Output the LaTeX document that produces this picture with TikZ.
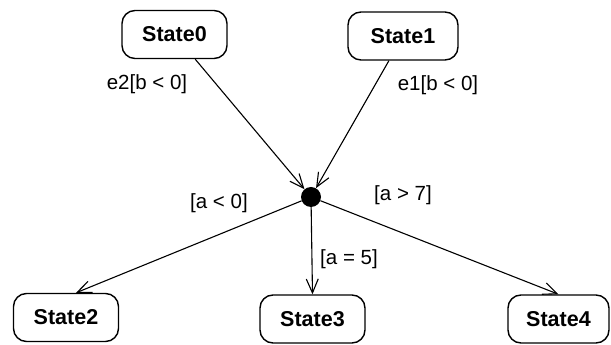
\documentclass[tikz,border=0pt]{standalone}
\usepackage{fontspec}
\setmainfont{Liberation Sans}
\usetikzlibrary{arrows.meta, calc}

\tikzset{
    state/.style={draw, line width=1.4pt, rounded corners=13pt, minimum width=105pt, minimum height=48pt,
        font=\fontsize{21.5}{25}\selectfont\bfseries, inner sep=2pt},
    guard/.style={font=\fontsize{20.5}{24}\selectfont, inner sep=1pt},
    trans/.style={line width=1.1pt, -{Straight Barb[length=14pt, width=12pt]}}
}

\begin{document}
\begin{tikzpicture}[x=1pt, y=1pt]
                \useasboundingbox (0,0) rectangle (611,345);
                \node[state] (S0) at (174.5,310.5) {State0};
                \node[state, minimum width=110pt] (S1) at (403,309) {State1};
                \node[state] (S2) at (66,27.5) {State2};
                \node[state] (S3) at (312.5,26) {State3};
                \node[state, minimum width=101pt] (S4) at (558.5,26) {State4};
                \node[circle, fill=black, minimum size=20pt, inner sep=0pt] (J) at (311,148) {};
                \draw[trans] (S0) -- (J);
                \draw[trans] (S1) -- (J);
                \draw[trans] (J) -- ([xshift=10pt]S2.north);
                \draw[trans] (J) -- (S3.north);
                \draw[trans] (J) -- (S4.north);
                \node[guard] (g0) at (147,261) {e2[b < 0]};
                \node[guard] (g1) at (438,260) {e1[b < 0]};
                \node[guard] (g2) at (219,142) {[a < 0]};
                \node[guard] (g3) at (403,150) {[a > 7]};
                \node[guard] (g4) at (349,86) {[a = 5]};
            \end{tikzpicture}
\end{document}
